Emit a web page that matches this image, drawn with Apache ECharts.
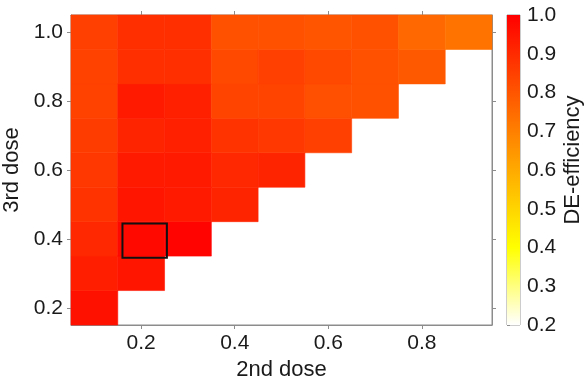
<!DOCTYPE html>
<html>
<head>
<meta charset="utf-8">
<script src="https://cdn.jsdelivr.net/npm/echarts@6/dist/echarts.min.js"></script>
<style>
  html, body { margin: 0; padding: 0; background: #fff; }
  #chart { width: 586px; height: 381px; }
</style>
</head>
<body>
<div id="chart"></div>
<script>
// dose grid (cell centres)
var secondDose = [0.1, 0.2, 0.3, 0.4, 0.5, 0.6, 0.7, 0.8, 0.9];
var thirdDose = [0.2, 0.3, 0.4, 0.5, 0.6, 0.7, 0.8, 0.9, 1.0];

// DE-efficiency, one row per 3rd dose, starting at 2nd dose 0.1
var eff02 = [0.96];
var eff03 = [0.93, 0.95];
var eff04 = [0.905, 0.98, 0.99];
var eff05 = [0.88, 0.95, 0.94, 0.915];
var eff06 = [0.87, 0.94, 0.94, 0.905, 0.915];
var eff07 = [0.86, 0.915, 0.925, 0.88, 0.87, 0.85];
var eff08 = [0.845, 0.94, 0.925, 0.84, 0.84, 0.815, 0.81];
var eff09 = [0.845, 0.89, 0.89, 0.83, 0.85, 0.83, 0.81, 0.79];
var eff10 = [0.85, 0.89, 0.89, 0.81, 0.81, 0.80, 0.81, 0.755, 0.73];
var effRows = [eff02, eff03, eff04, eff05, eff06, eff07, eff08, eff09, eff10];

// highlighted design: [x0, y1, x1, y0]
var highlightBox = [[0.16, 0.445, 0.255, 0.345]];

var xTicks = [0.2, 0.4, 0.6, 0.8];
var yTicks = [0.2, 0.4, 0.6, 0.8, 1.0];
var barTicks = [0.2, 0.3, 0.4, 0.5, 0.6, 0.7, 0.8, 0.9, 1.0];

var cells = [];
effRows.forEach(function (row, j) {
  row.forEach(function (v, i) {
    cells.push([secondDose[i], thirdDose[j], v]);
  });
});

var rampColors = ['#ffffff', '#ffff00', '#ffaa00', '#ff5500', '#ff0000'];
var half = 0.05;
var fontFam = 'Liberation Sans, Arial, sans-serif';
var gray = '#8c8c8c';

var chart = echarts.init(document.getElementById('chart'));

var labelStyle = { fontSize: 21, color: '#1a1a1a', fontFamily: fontFam };

function boxAxis(extra) {
  return Object.assign({
    type: 'value',
    axisLine: { show: true, lineStyle: { color: gray, width: 1 } },
    axisTick: { show: true, inside: false, length: 4, lineStyle: { color: gray } },
    splitLine: { show: false }
  }, extra);
}

var option = {
  animation: false,
  backgroundColor: '#fff',
  grid: [
    { left: 71, top: 15, width: 421, height: 310, show: true, borderColor: gray, borderWidth: 1, outerBoundsMode: 'none', containLabel: false },
    { left: 507, top: 15, width: 13, height: 310, show: true, borderColor: '#999', borderWidth: 1, outerBoundsMode: 'none', containLabel: false }
  ],
  xAxis: [
    boxAxis({
      gridIndex: 0, min: 0.05, max: 0.95, position: 'bottom',
      axisTick: { show: true, length: 4, customValues: xTicks, lineStyle: { color: gray } },
      axisLabel: Object.assign({ margin: 8, customValues: xTicks, formatter: function (v) { return v.toFixed(1); } }, labelStyle),
      name: '2nd dose', nameLocation: 'middle', nameGap: 30,
      nameTextStyle: { fontSize: 22, color: '#1a1a1a', fontFamily: fontFam }
    }),
    boxAxis({
      gridIndex: 0, min: 0.05, max: 0.95, position: 'top',
      axisTick: { show: true, length: 4, customValues: xTicks, lineStyle: { color: gray } },
      axisLabel: { show: false }
    }),
    { type: 'value', gridIndex: 1, min: 0, max: 1, show: false }
  ],
  yAxis: [
    boxAxis({
      gridIndex: 0, min: 0.15, max: 1.05, position: 'left',
      axisTick: { show: true, length: 4, customValues: yTicks, lineStyle: { color: gray } },
      axisLabel: Object.assign({ margin: 8, customValues: yTicks, formatter: function (v) { return v.toFixed(1); } }, labelStyle),
      name: '3rd dose', nameLocation: 'middle', nameGap: 36, nameRotate: 90,
      nameTextStyle: { fontSize: 22, color: '#1a1a1a', fontFamily: fontFam }
    }),
    boxAxis({
      gridIndex: 0, min: 0.15, max: 1.05, position: 'right',
      axisTick: { show: true, length: 4, customValues: yTicks, lineStyle: { color: gray } },
      axisLabel: { show: false }
    }),
    boxAxis({
      gridIndex: 1, min: 0.2, max: 1.0, position: 'right',
      axisLine: { show: false },
      axisTick: { show: true, length: 3, customValues: barTicks, lineStyle: { color: gray } },
      axisLabel: Object.assign({ margin: 7, customValues: barTicks, formatter: function (v) { return v.toFixed(1); } }, labelStyle),
      name: 'DE-efficiency', nameLocation: 'middle', nameGap: 42, nameRotate: 90,
      nameTextStyle: { fontSize: 22, color: '#1a1a1a', fontFamily: fontFam, padding: [0, 0, 0, 20] }
    })
  ],
  visualMap: {
    show: false,
    type: 'continuous',
    seriesIndex: 0,
    dimension: 2,
    min: 0.2,
    max: 1.0,
    inRange: { color: rampColors }
  },
  series: [
    {
      type: 'custom',
      xAxisIndex: 0,
      yAxisIndex: 0,
      encode: { x: 0, y: 1 },
      data: cells,
      renderItem: function (params, api) {
        var x = api.value(0), y = api.value(1);
        var p0 = api.coord([x - half, y + half]);
        var p1 = api.coord([x + half, y - half]);
        var c = api.visual('color');
        return {
          type: 'rect',
          shape: { x: p0[0], y: p0[1], width: p1[0] - p0[0], height: p1[1] - p0[1] },
          style: { fill: c, stroke: c, lineWidth: 0.6 }
        };
      }
    },
    {
      type: 'custom',
      xAxisIndex: 0,
      yAxisIndex: 0,
      encode: { x: [0, 2], y: [1, 3] },
      data: highlightBox,
      z: 5,
      renderItem: function (params, api) {
        var p0 = api.coord([api.value(0), api.value(1)]);
        var p1 = api.coord([api.value(2), api.value(3)]);
        return {
          type: 'rect',
          shape: { x: p0[0], y: p0[1], width: p1[0] - p0[0], height: p1[1] - p0[1] },
          style: { fill: null, stroke: '#111', lineWidth: 2 }
        };
      }
    },
    {
      type: 'custom',
      xAxisIndex: 2,
      yAxisIndex: 2,
      encode: { x: 0, y: [1, 2] },
      data: [[0, 0.2, 1.0]],
      renderItem: function (params, api) {
        var top = api.coord([0, api.value(2)]);
        var bot = api.coord([1, api.value(1)]);
        var stops = rampColors.map(function (c, i) {
          return { offset: i / (rampColors.length - 1), color: c };
        });
        return {
          type: 'rect',
          shape: { x: top[0], y: top[1], width: bot[0] - top[0], height: bot[1] - top[1] },
          style: { fill: new echarts.graphic.LinearGradient(0, 1, 0, 0, stops) }
        };
      }
    }
  ]
};

chart.setOption(option);
</script>
</body>
</html>
